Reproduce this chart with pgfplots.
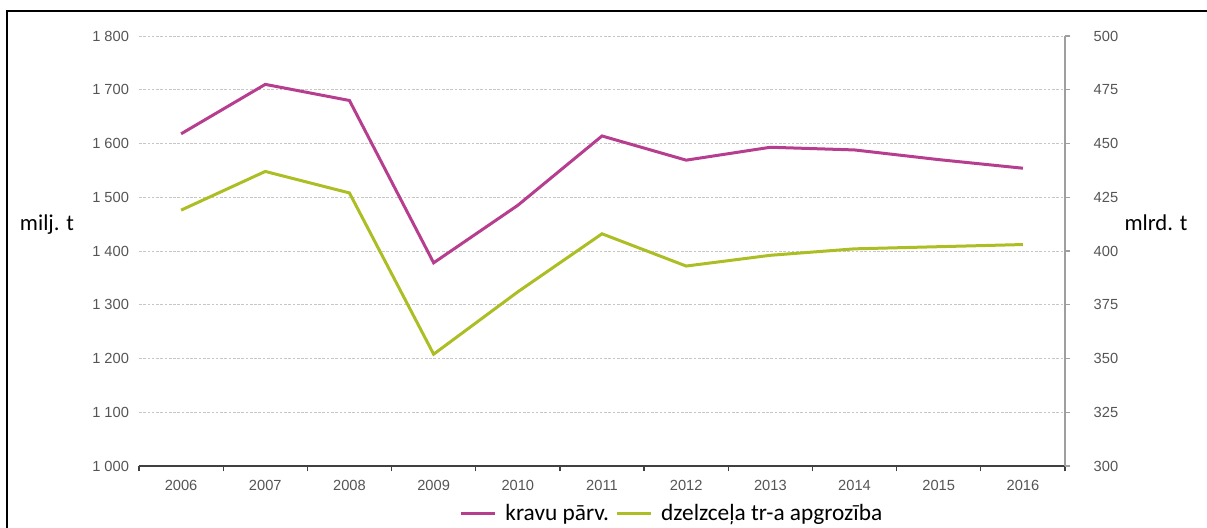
\documentclass[border=0pt]{standalone}
\usepackage{fontspec}
\setmainfont{Liberation Sans}
\newfontfamily\calfont{Carlito}
\usepackage{pgfplots}
\usepackage{pgfplotstable}
\pgfplotsset{compat=1.18}
\definecolor{mag}{RGB}{183,62,142}
\definecolor{olv}{RGB}{172,190,36}
\definecolor{ticktext}{RGB}{85,85,85}

\pgfplotstableread{
x kravu
0 1618
1 1710
2 1680
3 1378
4 1485
5 1614
6 1569
7 1593
8 1588
9 1570
10 1554
}\kravu
\pgfplotstableread{
x apgr
0 419
1 437
2 427
3 352
4 381
5 408
6 393
7 398
8 401
9 402
10 403
}\apgr

\begin{document}
\begin{tikzpicture}
\begin{axis}[scale only axis, width=694.5pt, height=322.5pt, at={(0,0)}, anchor=south west,
  xmin=-0.5, xmax=10.5, ymin=1000, ymax=1800,
  axis x line*=bottom, axis y line*=left,
  y axis line style={draw=none},
  x axis line style={draw=black!75, line width=1pt, -},
  xtick={0,1,2,3,4,5,6,7,8,9,10},
  xticklabels={2006,2007,2008,2009,2010,2011,2012,2013,2014,2015,2016},
  major x tick style={draw=none},
  minor xtick={-0.5,0.5,1.5,2.5,3.5,4.5,5.5,6.5,7.5,8.5,9.5,10.5},
  minor x tick style={draw=black!75, line width=0.9pt},
  minor tick length=4pt, tick align=outside,
  ytick={1000,1100,1200,1300,1400,1500,1600,1700,1800},
  yticklabels={1 000,1 100,1 200,1 300,1 400,1 500,1 600,1 700,1 800},
  major y tick style={draw=none},
  major tick length=0pt,
  ymajorgrids, y grid style={gray!45, line width=0.6pt, dash pattern=on 2pt off 1.2pt},
  ticklabel style={font=\fontsize{11}{13}\selectfont, text=ticktext},
  yticklabel style={xshift=-4pt},
  xticklabel style={yshift=-7pt},
  legend columns=2,
  legend style={draw=none, fill=none, at={(0.576,-0.11)}, anchor=center,
    font=\calfont\fontsize{17.5}{19}\selectfont, inner sep=0pt,
    /tikz/every even column/.append style={column sep=3pt}},
  legend image code/.code={\draw[#1] (0pt,0pt) -- (25.5pt,0pt); \path (30pt,0pt);},
]
\addplot[mag, line width=2.25pt] table[x=x, y=kravu] {\kravu};
\addlegendentry{kravu pārv.}
\addlegendimage{olv, line width=2.25pt}
\addlegendentry{dzelzceļa tr-a apgrozība}
\end{axis}
\begin{axis}[scale only axis, width=694.5pt, height=322.5pt, at={(0,0)}, anchor=south west,
  xmin=-0.5, xmax=10.5, ymin=300, ymax=500,
  axis x line=none, axis y line*=right,
  y axis line style={draw=gray!75, line width=0.8pt, -},
  ytick={300,325,350,375,400,425,450,475,500},
  y tick style={draw=gray!75, line width=0.8pt},
  tick align=outside, major tick length=4pt,
  /pgf/number format/assume math mode=true,
  ticklabel style={font=\fontsize{11}{13}\selectfont, text=ticktext},
  yticklabel style={xshift=14pt},
]
\addplot[olv, line width=2.25pt] table[x=x, y=apgr] {\apgr};
\end{axis}
\node[font=\calfont\fontsize{17}{19}\selectfont] at (-69pt,180.75pt) {milj. t};
\node[font=\calfont\fontsize{17}{19}\selectfont] at (762.75pt,182.25pt) {mlrd. t};
\draw[line width=1.5pt] (-99pt,-60pt) -- (-99pt,341.25pt) -- (820pt,341.25pt);
\pgfresetboundingbox
\path[use as bounding box] (-104.25pt,-46.5pt) rectangle (801pt,349.5pt);
\end{tikzpicture}
\end{document}
